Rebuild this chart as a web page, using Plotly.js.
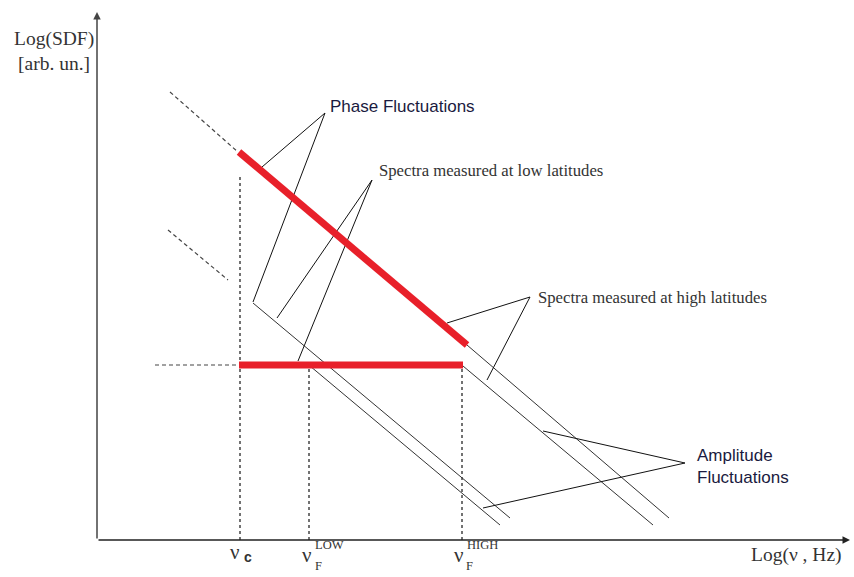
<!DOCTYPE html>
<html><head><meta charset="utf-8">
<script src="https://cdn.plot.ly/plotly-3.0.1.min.js"></script>
<style>html,body{margin:0;padding:0;background:#fff}#chart{width:854px;height:577px}</style>
</head><body><div id="chart"></div>
<script>
// Schematic coordinates (arbitrary log units)
const phaseDashedX = [73, 141],  phaseDashedY = [448, 388];
const phaseRedX    = [142, 370], phaseRedY    = [388, 195];
const highUpperX   = [370, 572], highUpperY   = [195, 22];
const highLowerX   = [366, 556], highLowerY   = [174, 15];
const lowDashedX   = [71, 131],  lowDashedY   = [310, 260];
const lowUpperX    = [156, 413], lowUpperY    = [237, 22];
const lowLowerX    = [213, 403], lowLowerY    = [174, 15];
const ampRedX      = [142, 366], ampRedY      = [175, 175];
const ampDashedX   = [58, 141],  ampDashedY   = [175, 175];
const nuC = 143, nuLow = 212, nuHigh = 365;
const vertTop = 175, vertTopC = 365;
const tickLabels = ["ν", "ν", "ν"];
// pointer lines: apex -> two ends
const pointers = [
  {label: "Phase Fluctuations", apex: [228, 427], ends: [[165, 373], [156, 238]]},
  {label: "Spectra measured at low latitudes", apex: [275, 360], ends: [[180, 222], [201, 179]]},
  {label: "Spectra measured at high latitudes", apex: [433, 243], ends: [[350, 217], [390, 160]]},
  {label: "Amplitude<br>Fluctuations", apex: [588, 77], ends: [[446, 109], [386, 32]]}
];

const XR = [0, 753], YR = [0, 530];
const px = v => v / XR[1];
const py = v => v / YR[1];

const thin = {color: '#333', width: 1};
const dash = {color: '#444', width: 1.2, dash: '4px,3px'};
const vdash = {color: '#444', width: 1.5, dash: '3px,3px'};
const red = {color: '#e8202a', width: 7};
function tr(x, y, line) { return {x: x, y: y, mode: 'lines', line: line, hoverinfo: 'skip', showlegend: false, type: 'scatter'}; }

const traces = [
  tr(phaseDashedX, phaseDashedY, dash),
  tr(lowDashedX, lowDashedY, dash),
  tr(ampDashedX, ampDashedY, dash),
  tr([nuC, nuC], [0, vertTopC], vdash),
  tr([nuLow, nuLow], [0, vertTop], vdash),
  tr([nuHigh, nuHigh], [0, vertTop], vdash),
  tr(highUpperX, highUpperY, thin),
  tr(highLowerX, highLowerY, thin),
  tr(lowUpperX, lowUpperY, thin),
  tr(lowLowerX, lowLowerY, thin)
];
pointers.forEach(p => {
  p.ends.forEach(e => traces.push(tr([p.apex[0], e[0]], [p.apex[1], e[1]], {color: '#111', width: 1})));
});
traces.push(tr(phaseRedX, phaseRedY, red));
traces.push(tr(ampRedX, ampRedY, red));

const sans = 'Liberation Sans, Arial, sans-serif';
const serif = 'Liberation Serif, Times New Roman, serif';
function T(x, y, text, xanchor, font, extra) {
  return Object.assign({x: px(x), y: py(y), xref: 'paper', yref: 'paper', text: text, showarrow: false,
    xanchor: xanchor, yanchor: 'middle', font: font}, extra || {});
}
const ann = [
  // axes with arrows
  {x: 753, y: 0, ax: 0, ay: 0, axref: 'x', ayref: 'y', xref: 'x', yref: 'y', showarrow: true, arrowhead: 2, arrowsize: 1, arrowwidth: 1.5, arrowcolor: '#222', text: ''},
  {x: 0, y: 528, ax: 0, ay: 0, axref: 'x', ayref: 'y', xref: 'x', yref: 'y', showarrow: true, arrowhead: 2, arrowsize: 1, arrowwidth: 1.5, arrowcolor: '#444', text: ''},
  // pointer labels
  T(231, 433, pointers[0].label, 'left', {family: sans, size: 17, color: '#1a1a40'}),
  T(280, 370, pointers[1].label, 'left', {family: serif, size: 16.7, color: '#333'}),
  T(439, 243, pointers[2].label, 'left', {family: serif, size: 16.7, color: '#333'}),
  T(598, 74, pointers[3].label, 'left', {family: sans, size: 17, color: '#1a1a40'}, {align: 'left'}),
  // axis titles
  T(-1, 501, 'Log(SDF)', 'right', {family: serif, size: 19.5, color: '#333'}),
  T(-5, 476, '[arb. un.]', 'right', {family: serif, size: 19.5, color: '#333'}),
  T(747, -15, 'Log(ν , Hz)', 'right', {family: serif, size: 19.5, color: '#333'}),
  // tick labels
  T(nuC + 2, -12, tickLabels[0], 'right', {family: serif, size: 21, color: '#333'}),
  T(nuC + 2, -17, '<b>c</b>', 'left', {family: sans, size: 14, color: '#333'}),
  T(nuLow + 5, -15, tickLabels[1], 'right', {family: serif, size: 21, color: '#333'}),
  T(nuLow + 4, -5, 'LOW', 'left', {family: serif, size: 12.5, color: '#333'}),
  T(nuLow + 9, -26, 'F', 'center', {family: serif, size: 12.5, color: '#333'}),
  T(nuHigh + 4, -15, tickLabels[2], 'right', {family: serif, size: 21, color: '#333'}),
  T(nuHigh + 3, -5, 'HIGH', 'left', {family: serif, size: 12.5, color: '#333'}),
  T(nuHigh + 7, -26, 'F', 'center', {family: serif, size: 12.5, color: '#333'})
];

const layout = {
  width: 854, height: 577,
  margin: {l: 97, r: 4, t: 10, b: 37},
  paper_bgcolor: '#fff', plot_bgcolor: '#fff',
  xaxis: {range: XR, visible: false, fixedrange: true},
  yaxis: {range: YR, visible: false, fixedrange: true},
  annotations: ann,
  showlegend: false
};
Plotly.newPlot('chart', traces, layout, {displayModeBar: false, staticPlot: true});
</script></body></html>
